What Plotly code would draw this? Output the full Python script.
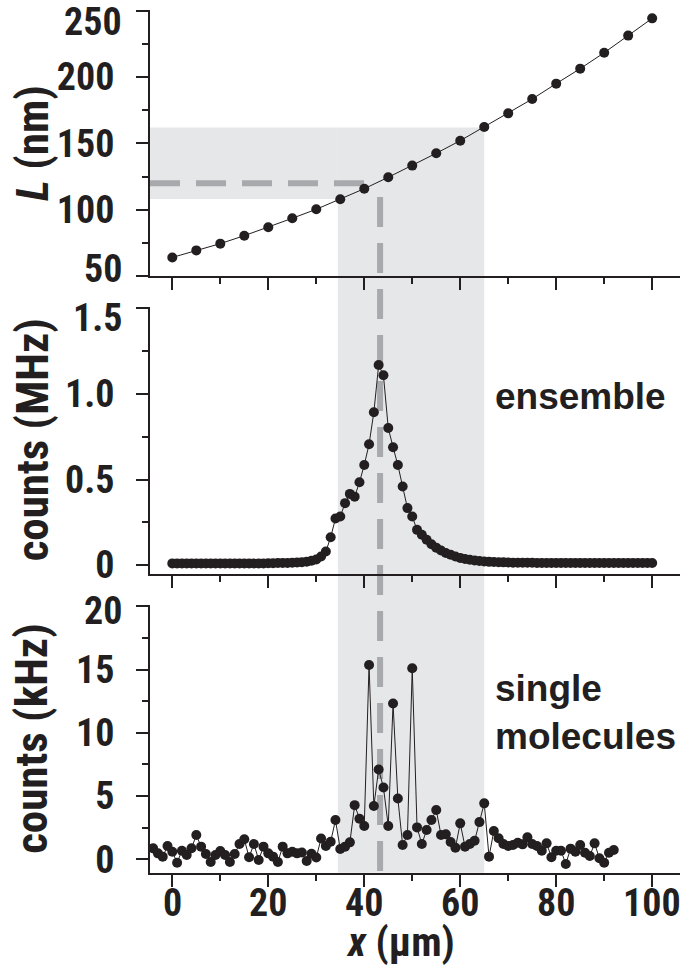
import plotly.graph_objects as go

# ---------------- data ----------------
x_top = [0, 5, 10, 15, 20, 25, 30, 35, 40, 45, 50, 55, 60, 65, 70, 75, 80, 85, 90, 95, 100]
L_nm = [64.0, 69.3, 74.4, 80.4, 86.7, 93.5, 100.3, 107.8, 115.8, 124.4, 133.2,
        142.5, 152.0, 162.3, 172.6, 183.4, 195.0, 206.3, 218.3, 231.2, 244.2]

x_ens = list(range(0, 101))
ensemble_MHz = [
    0.010, 0.010, 0.010, 0.010, 0.010, 0.010, 0.010, 0.010, 0.010, 0.010,
    0.010, 0.010, 0.010, 0.010, 0.010, 0.010, 0.010, 0.010, 0.010, 0.010,
    0.011, 0.011, 0.012, 0.012, 0.013, 0.014, 0.015, 0.017, 0.020, 0.025,
    0.033, 0.050, 0.079, 0.163, 0.272, 0.284, 0.362, 0.416, 0.400, 0.484,
    0.585, 0.706, 0.893, 1.169, 1.109, 0.801, 0.689, 0.585, 0.459, 0.333,
    0.284, 0.206, 0.177, 0.148, 0.122, 0.102, 0.085, 0.071, 0.060, 0.050,
    0.042, 0.036, 0.031, 0.027, 0.024, 0.021, 0.019, 0.018, 0.017, 0.016,
    0.015, 0.014, 0.014, 0.014, 0.014, 0.014, 0.013, 0.013, 0.013, 0.013,
    0.013, 0.013, 0.013, 0.013, 0.013, 0.013, 0.012, 0.012, 0.012, 0.012,
    0.012, 0.012, 0.012, 0.012, 0.012, 0.012, 0.012, 0.012, 0.012, 0.012,
    0.012,
]

x_sm = list(range(-4, 93))
single_kHz = [
    0.87, 0.47, 0.21, 1.05, 0.60, -0.27, 0.68, 0.34, 0.87, 1.92,
    1.00, 0.42, -0.21, 0.34, 0.66, 0.34, -0.21, 0.42, 1.21, 1.58,
    0.16, 1.21, -0.05, 1.00, 0.47, 0.21, -0.21, 1.00, 0.47, 0.60,
    0.47, 0.53, -0.14, 0.44, 0.14, 1.64, 1.06, 1.39, 3.10, 0.81,
    1.00, 1.34, 4.28, 3.21, 2.63, 15.36, 4.21, 7.10, 5.68, 2.63,
    12.31, 4.81, 1.13, 1.92, 15.10, 2.52, 1.21, 2.31, 3.10, 3.89,
    1.92, 1.97, 1.37, 0.92, 2.84, 1.00, 1.21, 1.47, 2.94, 4.42,
    0.21, 2.23, 1.66, 1.21, 1.05, 1.13, 1.31, 1.18, 1.74, 1.21,
    1.05, 0.68, 1.26, 0.16, 0.68, 0.68, -0.37, 0.84, 0.60, 1.13,
    0.52, 0.26, 1.26, 0.08, -0.27, 0.52, 0.73,
]

x_ticks = [0, 20, 40, 60, 80, 100]
x_tick_text = ["0", "20", "40", "60", "80", "100"]
x_minor = [10, 30, 50, 70, 90]
L_ticks = [50, 100, 150, 200, 250]
L_tick_text = ["50", "100", "150", "200", "250"]
L_minor = [75, 125, 175, 225]
ens_ticks = [0, 0.5, 1.0, 1.5]
ens_tick_text = ["0", "0.5", "1.0", "1.5"]
ens_minor = [0.25, 0.75, 1.25]
sm_ticks = [0, 5, 10, 15, 20]
sm_tick_text = ["0", "5", "10", "15", "20"]
sm_minor = [2.5, 7.5, 12.5, 17.5]

# highlighted region
band_x = [34.5, 65.0]
band_L = [108.0, 162.0]
sel_x = 43.3
sel_L = 120.0

# ---------------- style ----------------
INK = "#231f20"
BAND = "#e6e7e8"
DASH = "#a7a9ac"
NARROW = "Liberation Sans Narrow, Arial Narrow, Roboto Condensed, DejaVu Sans Condensed, sans-serif"
REG = "Liberation Sans, Arial, Helvetica, sans-serif"

W, Hh = 683, 967
ML, MR, MT, MB = 150, 3, 10, 94
PW = W - ML - MR
PH = Hh - MT - MB
BOT = Hh - MB


def dom(top_px, bot_px):
    return [(BOT - bot_px) / PH, (BOT - top_px) / PH]


XR = [-4.65, 105.8]
r_top = [50, 250.5]
r_mid = [-0.052, 1.51]
r_bot = [-1.06, 20.1]
d_top = dom(10, 276)
d_mid = dom(306.7, 574)
d_bot = dom(605, 872.7)


def paper_y(val, rng, d):
    return d[0] + (val - rng[0]) / (rng[1] - rng[0]) * (d[1] - d[0])


fig = go.Figure()
mk = dict(color=INK, size=10)
ln = dict(color=INK, width=1)
fig.add_trace(go.Scatter(x=x_top, y=L_nm, mode="lines+markers", marker=mk, line=ln,
                         xaxis="x", yaxis="y", showlegend=False))
fig.add_trace(go.Scatter(x=x_ens, y=ensemble_MHz, mode="lines+markers", marker=mk, line=ln,
                         xaxis="x2", yaxis="y2", showlegend=False))
fig.add_trace(go.Scatter(x=x_sm, y=single_kHz, mode="lines+markers", marker=mk, line=ln,
                         xaxis="x3", yaxis="y3", showlegend=False))

tickfont = dict(family=NARROW, size=38, color=INK, weight="bold")

# tick labels that sit off-centre in the original (pixel nudges: positive = up)
nudge = {("y", 250): -11, ("y", 50): 7, ("y2", 1.5): -10, ("y3", 20): -5}


def xax(anchor):
    return dict(domain=[0, 1], anchor=anchor, range=XR, showline=True, linecolor=INK,
                linewidth=2, ticks="outside", ticklen=12, tickwidth=2, tickcolor=INK,
                tickvals=x_ticks, showticklabels=False,
                showgrid=False, zeroline=False,
                minor=dict(tickvals=x_minor, ticks="outside", ticklen=6, tickwidth=2,
                           tickcolor=INK, showgrid=False))


def yax(name, anchor, d, rng, tv, tt, mv):
    shown = [("" if (name, v) in nudge else t) for v, t in zip(tv, tt)]
    return dict(domain=d, anchor=anchor, range=rng, showline=True, linecolor=INK,
                linewidth=2, ticks="outside", ticklen=12, tickwidth=2, tickcolor=INK,
                tickvals=tv, ticktext=shown, tickfont=tickfont, showgrid=False,
                zeroline=False, ticklabelstandoff=14,
                minor=dict(tickvals=mv, ticks="outside", ticklen=6, tickwidth=2,
                           tickcolor=INK, showgrid=False))


shapes = [
    dict(type="rect", xref="x", yref="y", x0=XR[0], x1=band_x[0], y0=band_L[0], y1=band_L[1],
         fillcolor=BAND, line=dict(width=0), layer="below"),
    dict(type="rect", xref="x", yref="paper", x0=band_x[0], x1=band_x[1], y0=paper_y(r_bot[0], r_bot, d_bot),
         y1=paper_y(band_L[1], r_top, d_top), fillcolor=BAND, line=dict(width=0), layer="below"),
    dict(type="line", xref="x", yref="y", x0=XR[0], x1=sel_x, y0=sel_L, y1=sel_L,
         line=dict(color=DASH, width=6, dash="30px,16px"), layer="below"),
    dict(type="line", xref="x", yref="paper", x0=sel_x, x1=sel_x,
         y0=paper_y(109.5, r_top, d_top), y1=paper_y(r_bot[0], r_bot, d_bot),
         line=dict(color=DASH, width=6, dash="30px,16px"), layer="below"),
]

ytitlefont = dict(family=NARROW, size=45, color=INK, weight="bold")
xtitlefont = dict(family=NARROW, size=41, color=INK, weight="bold")
labfont = dict(family=REG, size=37, color=INK, weight="bold")
ytx = (32 - ML) / PW
annotations = [
    dict(text="<i>L</i> (nm)", xref="paper", yref="paper", x=ytx, y=(d_top[0] + d_top[1]) / 2,
         textangle=-90, showarrow=False, font=ytitlefont, xanchor="center", yanchor="middle"),
    dict(text="counts (MHz)", xref="paper", yref="paper", x=ytx, y=(d_mid[0] + d_mid[1]) / 2,
         textangle=-90, showarrow=False, font=ytitlefont, xanchor="center", yanchor="middle"),
    dict(text="counts (kHz)", xref="paper", yref="paper", x=ytx, y=(d_bot[0] + d_bot[1]) / 2,
         textangle=-90, showarrow=False, font=ytitlefont, xanchor="center", yanchor="middle"),
    dict(text="<i>x</i> (µm)", xref="paper", yref="paper", x=(400 - ML) / PW,
         y=(BOT - 942) / PH, showarrow=False, font=xtitlefont, xanchor="center", yanchor="middle"),
    dict(text="ensemble", xref="paper", yref="paper", x=(493 - ML) / PW,
         y=(BOT - 397) / PH, showarrow=False, font=labfont, xanchor="left", yanchor="middle"),
    dict(text="single<br>molecules", xref="paper", yref="paper", x=(493 - ML) / PW,
         y=(BOT - 712) / PH, showarrow=False, font=labfont, xanchor="left", yanchor="middle",
         align="left"),
]

# x tick labels of the bottom panel
for v, t in zip(x_ticks, x_tick_text):
    annotations.append(dict(text=t, xref="x3", yref="paper", x=v, y=(BOT - 903) / PH,
                            xanchor="center", yanchor="middle", showarrow=False, font=tickfont))

# nudged y tick labels
axis_ticks = {"y": (L_ticks, L_tick_text), "y2": (ens_ticks, ens_tick_text), "y3": (sm_ticks, sm_tick_text)}
for (ax, val), shift in nudge.items():
    tv, tt = axis_ticks[ax]
    annotations.append(dict(text=tt[tv.index(val)], xref="paper", yref=ax, x=(124 - ML) / PW, y=val,
                            xanchor="right", yanchor="middle", yshift=shift, showarrow=False,
                            font=tickfont))

fig.update_layout(
    width=W, height=Hh, autosize=False,
    margin=dict(l=ML, r=MR, t=MT, b=MB, pad=0),
    paper_bgcolor="white", plot_bgcolor="rgba(0,0,0,0)",
    xaxis=xax("y"), xaxis2=xax("y2"), xaxis3=xax("y3"),
    yaxis=yax("y", "x", d_top, r_top, L_ticks, L_tick_text, L_minor),
    yaxis2=yax("y2", "x2", d_mid, r_mid, ens_ticks, ens_tick_text, ens_minor),
    yaxis3=yax("y3", "x3", d_bot, r_bot, sm_ticks, sm_tick_text, sm_minor),
    shapes=shapes, annotations=annotations, showlegend=False,
)

fig.write_html("out.html")
